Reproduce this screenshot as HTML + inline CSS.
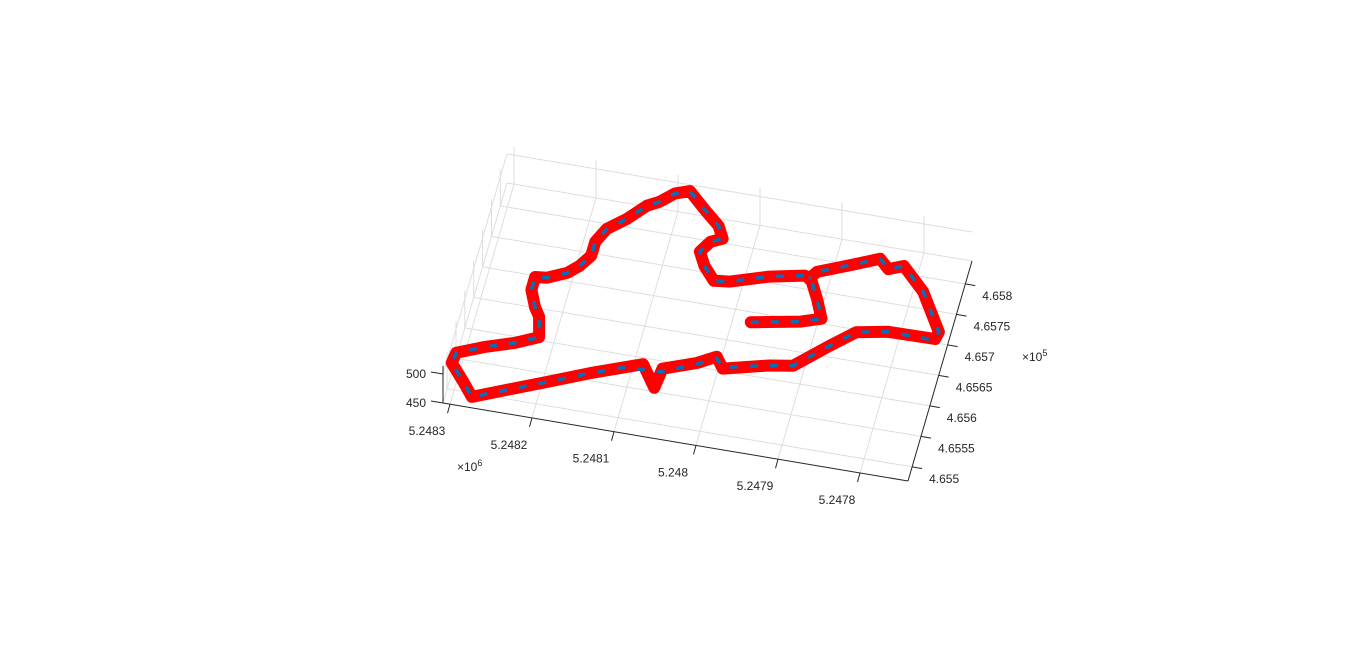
<!DOCTYPE html>
<html><head><meta charset="utf-8"><style>
html,body{margin:0;padding:0;background:#fff;}
svg{display:block;font-family:"Liberation Sans",Arial,sans-serif;}
</style></head><body>
<svg id="chart" width="1366" height="650" viewBox="0 0 1366 650">
<rect width="1366" height="650" fill="#fff"/>
<g id="grid"></g>
<g id="axes"></g>
<g id="series"></g>
</svg>
<script>
// Axis tick values
const xTicks = [5248300, 5248200, 5248100, 5248000, 5247900, 5247800];
const xTickLabels = ["5.2483", "5.2482", "5.2481", "5.248", "5.2479", "5.2478"];
const yTicks = [465500, 465550, 465600, 465650, 465700, 465750, 465800];
const yTickLabels = ["4.655", "4.6555", "4.656", "4.6565", "4.657", "4.6575", "4.658"];
const zTicks = [450, 500];
const zTickLabels = ["450", "500"];
// Blue track (line)
const blueX = [5247978,5247957,5247920,5247897,5247909,5247923,5247931,5247972,5248016,5248035,5248051,5248061,5248052,5248039,5248048,5248067,5248083,5248093,5248110,5248125,5248138,5248157,5248177,5248186,5248186,5248196,5248208,5248230,5248244,5248244,5248234,5248226,5248219,5248245,5248280,5248310,5248312,5248291,5248277,5248239,5248195,5248148,5248108,5248089,5248065,5248027,5248006,5247995,5247942,5247914,5247879,5247852,5247815,5247758,5247756,5247788,5247819,5247836,5247849,5247884,5247918,5247925];
const blueY = [465684,465689,465698,465708,465738,465768,465771,465760,465742,465739,465760,465781,465799,465807,465826,465845,465862,465873,465865,465848,465839,465813,465792,465769,465746,465727,465713,465700,465698,465677,465651,465637,465605,465590,465575,465559,465542,465514,465494,465514,465537,465562,465581,465581,465583,465604,465619,465606,465621,465627,465667,465696,465705,465704,465718,465777,465812,465803,465817,465798,465780,465767];
// Red track (markers)
const redX = [5247978,5247957,5247920,5247897,5247909,5247923,5247931,5247972,5248016,5248035,5248051,5248061,5248052,5248039,5248048,5248067,5248083,5248093,5248110,5248125,5248138,5248157,5248177,5248186,5248186,5248196,5248208,5248230,5248244,5248244,5248234,5248226,5248219,5248245,5248280,5248310,5248312,5248291,5248277,5248239,5248195,5248148,5248108,5248089,5248068,5248065,5248027,5248006,5247995,5247942,5247914,5247879,5247852,5247815,5247758,5247756,5247788,5247819,5247836,5247849,5247884,5247918,5247925];
const redY = [465684,465689,465698,465708,465738,465768,465771,465760,465742,465739,465760,465781,465799,465807,465826,465845,465862,465873,465865,465848,465839,465813,465792,465769,465746,465727,465713,465700,465698,465677,465651,465637,465605,465590,465575,465559,465542,465514,465494,465514,465537,465562,465581,465590,465556,465588,465606,465621,465604,465621,465627,465667,465696,465705,465706,465718,465777,465812,465803,465817,465798,465780,465767];
const trackZ = 450;

const NS = "http://www.w3.org/2000/svg";
const A = [443, 403], BU = [465, 78], BV = [64, -220];
const Z0 = 450, ZMAX = 514, ZS = 0.58;
function uOf(x){ return 0.015 + (5248300 - x) / 567; }
function vOf(y){ return 0.064 + (y - 465500) / 360.7; }
function proj(u, v, z){
  return [A[0] + BU[0]*u + BV[0]*v, A[1] + BU[1]*u + BV[1]*v - (z - Z0)*ZS];
}
function P(x, y, z){ return proj(uOf(x), vOf(y), z); }
function mk(tag, attrs, parent){
  const e = document.createElementNS(NS, tag);
  for (const k in attrs) e.setAttribute(k, attrs[k]);
  parent.appendChild(e); return e;
}
function line(p, q, stroke, w, parent){
  return mk("line", {x1:p[0].toFixed(1), y1:p[1].toFixed(1), x2:q[0].toFixed(1), y2:q[1].toFixed(1), stroke:stroke, "stroke-width":w}, parent);
}
const grid = document.getElementById("grid");
const axes = document.getElementById("axes");
const series = document.getElementById("series");
const GC = "#dedede";
xTicks.forEach(t => { const u = uOf(t);
  const l = line(proj(u,0,Z0), proj(u,1,Z0), GC, 1, grid);
  
  
  const b = line(proj(u,1,Z0), proj(u,1,ZMAX), GC, 1, grid);
  
  
});
yTicks.forEach(t => { const v = vOf(t);
  const l = line(proj(0,v,Z0), proj(1,v,Z0), GC, 1, grid);
  
  
  const w = line(proj(0,v,Z0), proj(0,v,ZMAX), GC, 1, grid);
  
  
});
zTicks.forEach(t => {
  const l = line(proj(0,0,t), proj(0,1,t), GC, 1, grid);
  
  
  const b = line(proj(0,1,t), proj(1,1,t), GC, 1, grid);
  
  
});
const AC = "#262626";
function txt(s, x, y, anchor, parent, name){
  const e = mk("text", {x:x.toFixed(1), y:y.toFixed(1), "text-anchor":anchor, "font-size":"12", fill:AC}, parent);
  e.textContent = s;
  
  
  return e;
}
const xa = line(proj(0,0,Z0), proj(1,0,Z0), AC, 1, axes);


xTicks.forEach((t,i) => { const p = proj(uOf(t),0,Z0);
  const tk = line(p, [p[0]-2.5, p[1]+9], AC, 1, axes);
  
  
  txt(xTickLabels[i], p[0]-23, p[1]+31, "middle", axes, 'x-tick-label');
});
const ex6 = mk("text", {x:"457", y:"471", "font-size":"12", fill:AC}, axes);
ex6.innerHTML = '×10<tspan dy="-5" font-size="9">6</tspan>';


const ya = line(proj(1,0,Z0), proj(1,1,Z0), AC, 1, axes);


yTicks.forEach((t,i) => { const p = proj(1,vOf(t),Z0);
  const tk = line(p, [p[0]+10, p[1]+1.7], AC, 1, axes);
  
  
  txt(yTickLabels[i], p[0]+17, p[1]+16, "start", axes, 'y-tick-label');
});
const ex5 = mk("text", {x:"1022", y:"361", "font-size":"12", fill:AC}, axes);
ex5.innerHTML = '×10<tspan dy="-5" font-size="9">5</tspan>';


const za = line(proj(0,0,Z0), proj(0,0,ZMAX), AC, 1, axes);


zTicks.forEach((t,i) => { const p = proj(0,0,t);
  const tk = line(p, [p[0]-12, p[1]-2], AC, 1, axes);
  
  
  txt(zTickLabels[i], p[0]-17, p[1]+4, "end", axes, 'z-tick-label');
});
function pts(xs, ys){ return xs.map((x,i) => P(x, ys[i], trackZ).map(n => n.toFixed(1)).join(",")).join(" "); }
const red = mk("polyline", {points: pts(redX, redY), fill:"none", stroke:"#ff0000", "stroke-width":"12", "stroke-linejoin":"round", "stroke-linecap":"round"}, series);


const blue = mk("polyline", {points: pts(blueX, blueY), fill:"none", stroke:"#0072bd", "stroke-width":"3.5", "stroke-dasharray":"8 12", "stroke-linejoin":"round"}, series);


</script>
</body></html>
